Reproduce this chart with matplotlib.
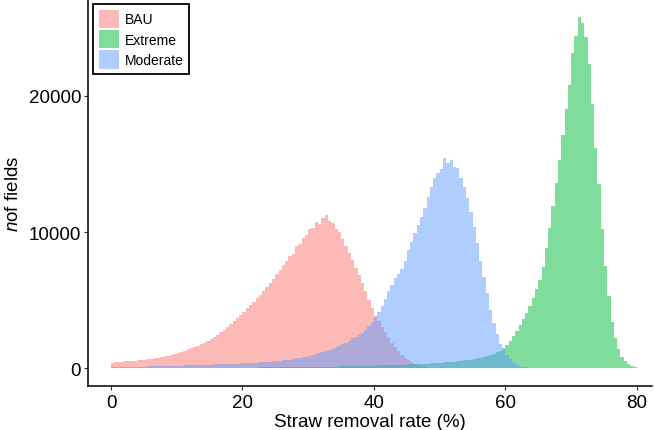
import numpy as np
import matplotlib
matplotlib.use('Agg')
import matplotlib.pyplot as plt
from matplotlib.patches import Patch

plt.rcParams['font.family'] = ['Liberation Sans', 'DejaVu Sans']
plt.rcParams['mathtext.fontset'] = 'custom'
plt.rcParams['mathtext.it'] = 'Liberation Sans:italic'
plt.rcParams['mathtext.rm'] = 'Liberation Sans'

# histogram bin width (%), all series start at 0
bin_width = 0.5

# counts per bin
bau = [420, 470, 480, 500, 510, 530, 540, 560, 600, 620,
       650, 680, 720, 740, 790, 830, 880, 940, 1000, 1060,
       1150, 1210, 1300, 1400, 1480, 1560, 1660, 1760, 1880, 2000,
       2150, 2300, 2470, 2650, 2830, 3020, 3230, 3450, 3700, 3930,
       4170, 4420, 4660, 4900, 5150, 5420, 5700, 5980, 6280, 6580,
       6900, 7230, 7550, 7880, 8230, 8400, 9000, 9150, 9600, 9750,
       10250, 10300, 10750, 10600, 11050, 11250, 10800, 10650, 10250, 10000,
       9500, 9000, 8500, 7950, 7400, 6850, 6250, 5650, 5000, 4400,
       3850, 3450, 3050, 2650, 2250, 1850, 1550, 1250, 1000, 780,
       600, 450, 330, 240, 160, 100, 60, 30, 15, 5]

extreme = [15, 15, 16, 16, 17, 17, 18, 18, 19, 19, 20, 20, 21, 21, 22, 22, 23, 24, 25, 26,
           27, 28, 29, 30, 31, 32, 33, 34, 35, 36, 38, 40, 42, 44, 46, 48, 50, 52, 54, 56,
           58, 60, 62, 64, 66, 68, 70, 72, 74, 76, 78, 80, 83, 86, 89, 92, 95, 98, 101, 104,
           107, 110, 114, 118, 122, 126, 130, 134, 138, 142, 146, 151, 156, 161, 166, 171, 176, 181, 186, 192,
           210, 218, 226, 234, 242, 250, 258, 266, 275, 284, 293, 302, 312, 322, 332, 343, 354, 366, 380, 400,
           420, 440, 460, 480, 505, 530, 555, 585, 615, 650, 690, 735, 785, 840, 905, 980, 1070, 1180, 1310, 1470,
           1700, 2000, 2350, 2750, 3150, 3600, 4050, 4600, 5200, 5800,
           6450, 7450, 8800, 10300, 11900, 13600, 15300, 17100, 19000, 20800,
           23100, 24400, 25800, 25300, 24300, 22300, 19400, 16200, 13500, 10200,
           7500, 5300, 3400, 2200, 1400, 850, 520, 320, 170, 70]

moderate = [90, 95, 100, 105, 110, 115, 120, 125, 130, 135, 140, 145, 150, 155, 160, 170, 175, 180, 190, 195,
            200, 205, 215, 220, 230, 235, 245, 250, 260, 270, 280, 290, 300, 310, 320, 330, 340, 350, 360, 370,
            380, 390, 400, 415, 430, 445, 460, 475, 495, 515, 540, 565, 590, 620, 650, 690, 730, 770, 820, 870,
            920, 980, 1040, 1110, 1190, 1270, 1350, 1440, 1540, 1650, 1770, 1900, 2040, 2200, 2280, 2450, 2620, 2830, 3100, 3400,
            3750, 4150, 4600, 5100, 5650, 6150, 6600, 6900, 7300, 7900,
            8650, 9300, 9900, 10500, 11100, 11800, 12550, 13300, 14000, 14300,
            14650, 15400, 15100, 15300, 14800, 14700, 14000, 13300, 12500, 11500,
            10400, 9200, 7900, 6700, 5500, 4300, 3300, 2500, 1800, 1350,
            1000, 700, 480, 320, 200, 120, 70, 40, 20, 10, 5, 0]

series = [('BAU', bau, '#F8766D'),
          ('Extreme', extreme, '#00BA38'),
          ('Moderate', moderate, '#619CFF')]

fig = plt.figure(figsize=(6.54, 4.31), dpi=100)
ax = fig.add_axes([88 / 654, 44 / 431, 564 / 654, 387 / 431])

handles = []
for name, counts, color in series:
    edges = np.arange(len(counts) + 1) * bin_width
    ax.stairs(counts, edges, fill=True, color=color, alpha=0.5,
              linewidth=0, antialiased=False)
    handles.append(Patch(facecolor=color, alpha=0.5, edgecolor='none', label=name))

ax.set_xlim(-3.5, 82.3)
ax.set_ylim(-1290, 27090)
ax.set_xticks([0, 20, 40, 60, 80])
ax.set_yticks([0, 10000, 20000])

for side in ['top', 'right']:
    ax.spines[side].set_visible(False)
for side in ['left', 'bottom']:
    ax.spines[side].set_color('black')
    ax.spines[side].set_linewidth(1.1)

ax.tick_params(axis='both', length=3, width=0.8, color='#333333',
               labelsize=13.5, labelcolor='black', pad=2)
ax.tick_params(axis='x', pad=3)

ax.set_xlabel('Straw removal rate (%)', fontsize=13.5, labelpad=1)
ax.set_ylabel(r'$n$of fields', fontsize=13.5, labelpad=5)

leg = ax.legend(handles=handles, loc='upper left',
                bbox_to_anchor=(5 / 564, 1 - 5 / 387),
                fontsize=10, frameon=True, fancybox=False,
                edgecolor='black', framealpha=1,
                handlelength=1.5, handleheight=1.65, handletextpad=0.4,
                labelspacing=0.15, borderpad=0.4, borderaxespad=0)
leg.get_frame().set_linewidth(1.3)

fig.savefig('out.png', dpi=100)
